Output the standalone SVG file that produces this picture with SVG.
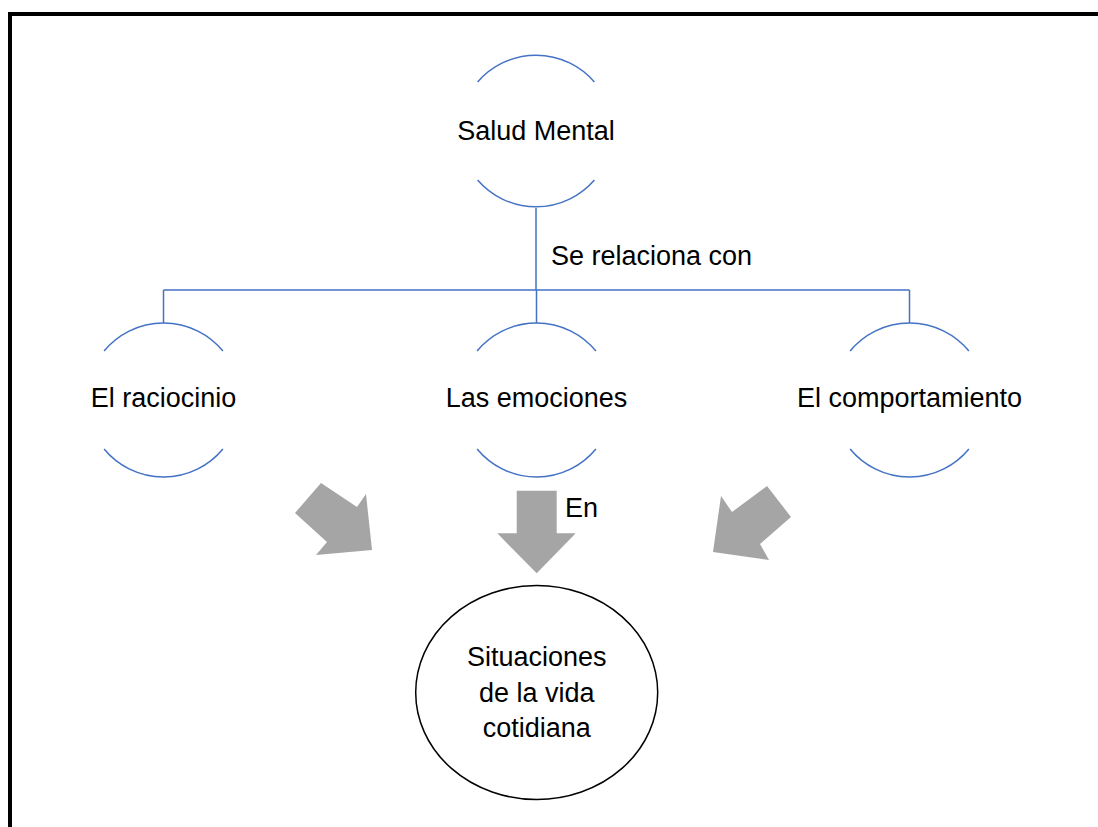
<svg xmlns="http://www.w3.org/2000/svg" width="1098" height="827" viewBox="0 0 1098 827">
<defs>
<style>
.arc{fill:none;stroke:#4472C4;stroke-width:1.5}
.con{fill:none;stroke:#4472C4;stroke-width:1.5}
.t{font-family:"Liberation Sans",Arial,sans-serif;font-size:27px;fill:#000}
.blk{fill:#A5A5A5;stroke:none}
</style>
</defs>
<rect x="0" y="0" width="1098" height="827" fill="#fff"/>
<rect x="10" y="14" width="1200" height="900" fill="none" stroke="#000" stroke-width="4"/>
<g id="connectors">
<path class="con" d="M536,208 V290 M163.5,290 H909.5 M163.5,290 V323 M536.5,290 V323 M909.5,290 V323"/>
<polygon id="arrow-left" class="blk" points="321,483 357,507 366,494 372,550 316,555 327,542 295,513"/>
<polygon id="arrow-middle" class="blk" points="516.7,490.7 556.7,490.7 556.7,533.3 575.7,533.3 536.7,573.3 497.3,533.3 516.7,533.3"/>
<polygon id="arrow-right" class="blk" points="767,486 791,517 760,544 769,560 713,552 721,496 732,512"/>
<text class="t" x="551" y="265">Se relaciona con</text>
<text class="t" x="565" y="517">En</text>
</g>
<g id="salud-mental">
<path class="arc" d="M477.6,82 A77,77 0 0 1 594.4,82 M477.6,180 A77,77 0 0 0 594.4,180"/>
<text class="t" x="536" y="140" text-anchor="middle">Salud Mental</text>
</g>
<g id="raciocinio">
<path class="arc" d="M104.1,351 A77,77 0 0 1 222.9,351 M104.1,449 A77,77 0 0 0 222.9,449"/>
<text class="t" x="163.5" y="407" text-anchor="middle">El raciocinio</text>
</g>
<g id="emociones">
<path class="arc" d="M477.1,351 A77,77 0 0 1 595.9,351 M477.1,449 A77,77 0 0 0 595.9,449"/>
<text class="t" x="536.5" y="407" text-anchor="middle">Las emociones</text>
</g>
<g id="comportamiento">
<path class="arc" d="M850.1,351 A77,77 0 0 1 968.9,351 M850.1,449 A77,77 0 0 0 968.9,449"/>
<text class="t" x="909.5" y="407" text-anchor="middle">El comportamiento</text>
</g>
<g id="situaciones">
<ellipse cx="536.7" cy="692.5" rx="121" ry="107" fill="#fff" stroke="#000" stroke-width="1.5"/>
<text class="t" text-anchor="middle"><tspan x="536.7" y="666">Situaciones</tspan><tspan x="536.7" y="702">de la vida</tspan><tspan x="536.7" y="737">cotidiana</tspan></text>
</g>
</svg>
